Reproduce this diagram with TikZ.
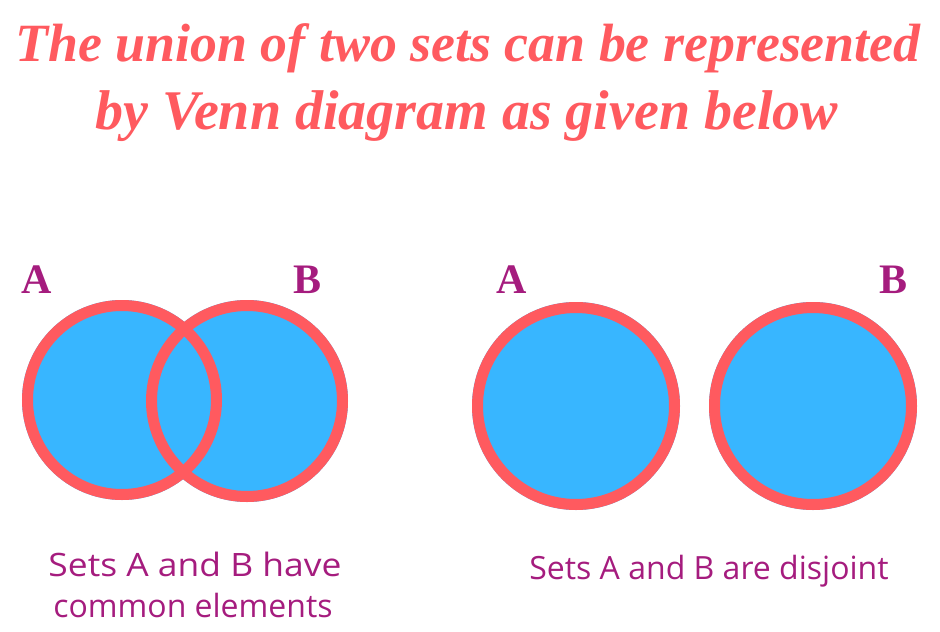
\documentclass[tikz,border=0pt]{standalone}
\usepackage{fontspec}
\setmainfont{Liberation Serif}
\newfontfamily\titlefont{Liberation Serif}
\newfontfamily\capfont{Open Sans}
\definecolor{coral}{HTML}{FF5A5F}
\definecolor{skyblue}{HTML}{38B6FF}
\definecolor{plum}{HTML}{A51C7E}
\tikzset{
  setfill/.style={fill=skyblue},
  setring/.style={draw=coral, line width=11pt},
  setlabel/.style={text=plum, font=\fontsize{42}{42}\selectfont\bfseries, anchor=base, inner sep=0pt},
  captext/.style={text=plum, font=\capfont\fontsize{32}{40}\selectfont, anchor=base, inner sep=0pt},
  titletext/.style={text=coral, font=\titlefont\bfseries\itshape, anchor=base, inner sep=0pt}
}
\begin{document}
\begin{tikzpicture}[x=1pt,y=-1pt]
\useasboundingbox (0,0) rectangle (940,632);
% title
\node[titletext] (t1) at (468,61) {\resizebox{905pt}{!}{The union of two sets can be represented}};
\node[titletext] (t2) at (467,129) {\resizebox{742pt}{!}{by Venn diagram as given below}};
% left pair (overlapping)
\coordinate (ca) at (122,400);
\coordinate (cb) at (247,401);
\fill[setfill] (ca) circle (100);
\fill[setfill] (cb) circle (101);
\draw[setring] (ca) circle (94.5);
\draw[setring] (cb) circle (95.5);
\node[setlabel] (la) at (37,293) {A};
\node[setlabel] (lb) at (308,293) {B};
% right pair (disjoint)
\coordinate (da) at (576,406);
\coordinate (db) at (813,406);
\fill[setfill] (da) circle (104);
\fill[setfill] (db) circle (104);
\draw[setring] (da) circle (98.5);
\draw[setring] (db) circle (98.5);
\node[setlabel] (ra) at (512,293) {A};
\node[setlabel] (rb) at (893,293) {B};
% captions
\node[captext] (c1) at (195,576) {\resizebox{293pt}{!}{\scalebox{1.1}[1]{Sets A and B have}}};
\node[captext] (c2) at (193,617) {common elements};
\node[captext] (c3) at (709,579) {Sets A and B are disjoint};
\end{tikzpicture}
\end{document}
